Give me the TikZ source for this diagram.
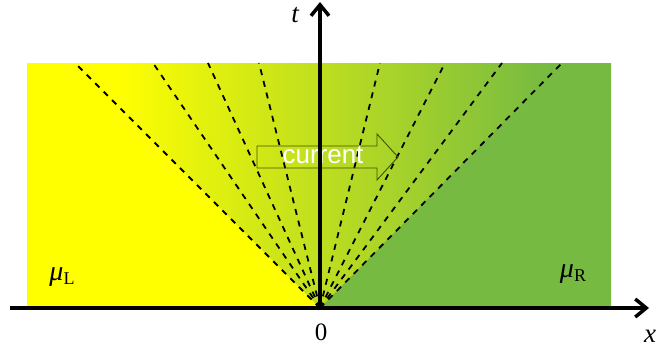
\documentclass[tikz,border=0pt]{standalone}
\usepackage{fontspec}
\setmainfont{Liberation Serif}
\newfontfamily\curfont{Liberation Sans}
\usetikzlibrary{arrows.meta}
\definecolor{fanyellow}{RGB}{255,255,0}
\definecolor{fangreen}{RGB}{118,186,66}
\definecolor{arrowedge}{RGB}{70,80,0}
\tikzset{
  axisline/.style={line width=3.5pt,-{Straight Barb[length=11pt,width=18pt,line width=3.5pt]}},
  fanline/.style={line width=1.8pt,dash pattern=on 6pt off 6pt},
  axislabel/.style={font=\fontsize{27}{27}\selectfont\itshape,inner sep=0pt},
  chem/.style={font=\fontsize{28}{28}\selectfont,inner sep=0pt},
}
\begin{document}
\begin{tikzpicture}[x=1pt,y=-1pt]
\useasboundingbox (0,0) rectangle (658,354);
\coordinate (O) at (320,308);
% fan tops
\coordinate (l1) at (75,63);
\coordinate (l2) at (153,63);
\coordinate (l3) at (208,63);
\coordinate (l4) at (259,63);
\coordinate (r4) at (380,63);
\coordinate (r3) at (445,63);
\coordinate (r2) at (502,63);
\coordinate (r1) at (562,63);
% background: horizontal gradient built from solid stripes
\fill[fanyellow] (27,63) rectangle (611,308);
\foreach \i in {0,...,108} {
  \pgfmathsetmacro\p{100-100*\i/108}
  \fill[fanyellow!\p!fangreen] ({115+4*\i},63) rectangle (611,308);
}
\fill[fanyellow] (27,63) -- (l1) -- (O) -- (27,308) -- cycle;
\fill[fangreen] (r1) -- (611,63) -- (611,308) -- (O) -- cycle;
% dashed lines
\foreach \c in {l1,l2,l3,l4,r4,r3,r2,r1} \draw[fanline] (O) -- (\c);
% current arrow
\draw[arrowedge,line width=0.9pt] (257,146) -- (377,146) -- (377,134) -- (398,157) -- (377,180) -- (377,168) -- (257,168) -- cycle;
\node[text=white,font=\curfont\fontsize{26}{26}\selectfont,inner sep=0pt] (cur) at (323,155) {current};
% axes
\coordinate (xs) at (10,308);
\coordinate (xe) at (649,308);
\coordinate (ts) at (320,309.5);
\coordinate (te) at (320,2);
\draw[axisline] (xs) -- (xe);
\draw[axisline] (ts) -- (te);
% labels
\node[axislabel] (tlab) at (295,15) {t};
\node[axislabel] (xlab) at (650,336) {x};
\node[font=\fontsize{25}{25}\selectfont,inner sep=0pt] (zero) at (321,332) {0};
\node[chem] (muL) at (62,277) {\textit{μ}\raisebox{-0.35ex}{\fontsize{18}{18}\selectfont L}};
\node[chem] (muR) at (573,274) {\textit{μ}\raisebox{-0.35ex}{\fontsize{18}{18}\selectfont R}};
\end{tikzpicture}
\end{document}
